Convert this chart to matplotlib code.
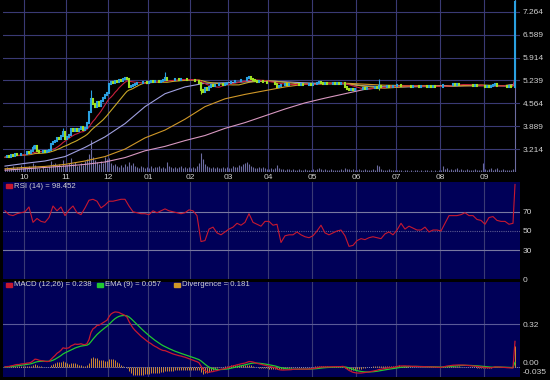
import numpy as np
import pandas as pd
import matplotlib
matplotlib.use("Agg")
import matplotlib.pyplot as plt
from matplotlib.patches import Rectangle
from pandas.tseries.offsets import CustomBusinessDay

# trading calendar (exchange closures)
holidays = ['2012-10-29', '2012-10-30', '2012-11-22', '2012-12-25', '2013-01-01',
            '2013-01-21', '2013-02-18', '2013-03-29', '2013-05-27', '2013-07-04',
            '2013-09-02']
first_day = '2012-09-17'

# daily closes
closes = [
    # Sep
    2.98, 3.02, 3.00, 3.05, 3.03, 3.08, 3.06, 3.04, 3.09, 3.07,
    # Oct
    3.08, 3.12, 3.10, 3.15, 3.25, 3.30, 3.16, 3.12, 3.14, 3.17, 3.13,
    3.16, 3.20, 3.38, 3.42, 3.46, 3.55, 3.52, 3.60, 3.72, 3.52,
    # Nov
    3.58, 3.64, 3.80, 3.76, 3.82, 3.74, 3.80, 3.86, 3.78, 3.84, 3.98,
    4.30, 4.70, 4.55, 4.45, 4.60, 4.50, 4.65, 4.72, 4.80, 4.86,
    # Dec
    5.15, 5.20, 5.18, 5.22, 5.20, 5.24, 5.22, 5.28, 5.30, 5.27,
    5.05, 5.08, 5.10, 5.15, 5.17, 5.18, 5.16, 5.19, 5.20, 5.18,
    # Jan
    5.20, 5.22, 5.19, 5.21, 5.23, 5.20, 5.22, 5.24, 5.30, 5.25, 5.24,
    5.26, 5.25, 5.27, 5.28, 5.26, 5.29, 5.27, 5.28, 5.26, 5.25,
    # Feb
    5.24, 5.25, 5.22, 5.23, 5.18, 4.95, 4.90, 5.02, 4.96, 5.05,
    5.10, 5.08, 5.12, 5.10, 5.13, 5.15, 5.12, 5.14, 5.16,
    # Mar
    5.18, 5.20, 5.19, 5.21, 5.23, 5.22, 5.25, 5.24, 5.26, 5.30,
    5.33, 5.27, 5.24, 5.22, 5.20, 5.22, 5.21, 5.19, 5.20, 5.18,
    # Apr
    5.17, 5.18, 5.16, 5.15, 5.06, 5.09, 5.11, 5.12, 5.13, 5.12, 5.14,
    5.13, 5.15, 5.14, 5.13, 5.12, 5.13, 5.12, 5.11, 5.12, 5.13, 5.12,
    # May
    5.15, 5.14, 5.16, 5.19, 5.16, 5.15, 5.16, 5.15, 5.14, 5.15, 5.16,
    5.15, 5.16, 5.15, 5.17, 5.18, 5.06, 5.00, 4.97, 4.99, 4.96, 4.99,
    # Jun
    4.98, 5.00, 4.99, 5.01, 5.00, 5.02, 5.01, 5.03, 5.02, 5.04,
    5.03, 5.08, 5.04, 5.06, 5.05, 5.07, 5.06, 5.05, 5.07, 5.08,
    # Jul
    5.10, 5.12, 5.08, 5.09, 5.08, 5.07, 5.08, 5.06, 5.07, 5.08, 5.07,
    5.06, 5.07, 5.08, 5.07, 5.06, 5.07, 5.06, 5.07, 5.06, 5.05, 5.06,
    # Aug
    5.05, 5.10, 5.11, 5.12, 5.11, 5.12, 5.13, 5.12, 5.13, 5.12, 5.11,
    5.12, 5.11, 5.10, 5.11, 5.10, 5.09, 5.10, 5.09, 5.08, 5.08, 5.07,
    # Sep
    5.06, 5.07, 5.06, 5.08, 5.10, 5.14, 5.09, 5.08, 5.07, 5.08,
    5.07, 5.06, 5.07, 5.06, 5.06, 7.55,
]

# days whose wicks stick out of the body
wick_highs = {14: 3.35, 29: 3.85, 43: 4.95, 80: 5.50, 187: 5.28, 245: 5.16, 255: 7.608}
wick_lows = {98: 4.85, 187: 4.95}

# volume, thousands of shares
volume = [
    40, 55, 30, 45, 60, 35, 50, 40, 70, 45,
    50, 40, 60, 55, 90, 70, 40, 45, 35, 50, 40, 45, 60, 110, 80, 95, 70, 85, 60, 120, 75,
    70, 90, 140, 80, 100, 60, 75, 90, 70, 110, 130, 180, 320, 150, 120, 100, 80, 110, 90, 150, 130,
    140, 90, 70, 80, 60, 55, 70, 50, 80, 60, 100, 70, 90, 60, 50, 45, 60, 55, 40, 50,
    45, 60, 40, 55, 50, 65, 40, 50, 45, 100, 60, 50, 45, 55, 40, 50, 60, 45, 55, 40, 50,
    45, 55, 40, 60, 90, 190, 130, 80, 60, 50, 45, 55, 40, 50, 45, 40, 55, 45, 50,
    40, 45, 60, 50, 55, 70, 60, 80, 95, 100, 85, 60, 50, 45, 40, 55, 45, 50, 40, 35,
    35, 40, 30, 45, 70, 40, 35, 30, 25, 30, 35, 25, 30, 20, 25, 30, 20, 25, 30, 20, 25, 20,
    30, 25, 35, 40, 30, 25, 30, 20, 25, 30, 20, 25, 20, 25, 30, 25, 40, 30, 35, 25, 30, 20,
    25, 30, 20, 25, 30, 20, 25, 20, 30, 25, 70, 60, 30, 25, 20, 25, 30, 20, 25, 20,
    20, 25, 20, 15, 20, 25, 15, 20, 15, 20, 25, 15, 20, 15, 20, 25, 15, 20, 15, 20, 15, 20,
    25, 60, 30, 45, 25, 35, 20, 30, 40, 25, 30, 20, 25, 30, 20, 25, 20, 30, 25, 20, 25, 90,
    35, 25, 30, 45, 25, 30, 40, 25, 20, 30, 25, 20, 25, 20, 30, 2000,
]

# slow moving averages every 10th session (+ last one);
# they include history from before the visible window
ma50 = [2.72, 2.80, 2.87, 3.00, 3.27, 3.58, 3.97, 4.47, 4.85, 5.05, 5.16, 5.17, 5.20, 5.22,
        5.20, 5.17, 5.15, 5.14, 5.08, 5.05, 5.05, 5.06, 5.07, 5.09, 5.09, 5.08, 5.12]
ma100 = [2.64, 2.68, 2.71, 2.77, 2.87, 3.00, 3.22, 3.55, 3.78, 4.10, 4.47, 4.70, 4.83, 4.94,
         5.05, 5.13, 5.17, 5.16, 5.13, 5.10, 5.09, 5.08, 5.08, 5.08, 5.09, 5.09, 5.12]
ma150 = [2.60, 2.64, 2.68, 2.72, 2.77, 2.84, 2.97, 3.17, 3.30, 3.47, 3.62, 3.83, 4.00, 4.20,
         4.40, 4.58, 4.72, 4.85, 4.98, 5.04, 5.07, 5.08, 5.09, 5.09, 5.09, 5.09, 5.11]

# RSI(14) read every second session, plus the last session
rsi = [
    71, 67, 66, 68, 69, 70, 75, 59, 63, 60, 59, 64, 76, 71, 75, 66,
    72, 76, 69, 67, 74, 82, 83, 81, 74, 77, 81, 81, 82, 83, 83, 76,
    70, 69, 68, 68, 67, 71, 69, 71, 73, 71, 70, 69, 68, 69, 72, 71,
    66, 39, 40, 52, 54, 48, 46, 49, 52, 54, 58, 56, 59, 68, 59, 57,
    55, 60, 60, 56, 57, 38, 45, 46, 46, 49, 46, 44, 43, 45, 50, 56,
    48, 46, 48, 50, 51, 45, 34, 35, 40, 42, 41, 43, 44, 43, 42, 47,
    49, 46, 51, 58, 52, 55, 53, 51, 51, 54, 49, 51, 51, 50, 58, 66,
    66, 66, 67, 69, 66, 66, 62, 61, 57, 64, 65, 61, 60, 60, 57, 58,
    98.452,
]

price_ticks = [3.214, 3.889, 4.564, 5.239, 5.914, 6.589, 7.264]
rsi_ticks = [0, 30, 50, 70]

rsi_label = 'RSI (14) = 98.452'
macd_label = 'MACD (12,26) = 0.238'
ema_label = 'EMA (9) = 0.057'
div_label = 'Divergence = 0.181'

NAVY = '#000058'
GRID = '#3a3a74'
TXT = '#d0d0d0'
UP = '#2aa0e0'
DOWN = '#a0e020'
RED = '#c81830'
GREEN = '#20c830'
TAN = '#d08a30'

plt.rcParams['font.family'] = ['Liberation Sans', 'DejaVu Sans']

# ---- derived series ----
cal = CustomBusinessDay(holidays=holidays)
dates = pd.date_range(first_day, periods=len(closes), freq=cal)
idx = np.arange(len(closes))
c = pd.Series(closes)
o = c.shift(1).fillna(c.iloc[0])
up = (c >= o).values

months = dates.month
month_idx = np.flatnonzero(np.r_[True, months[1:] != months[:-1]])[1:]
month_labels = [f"{m:02d}" for m in months[month_idx]]

ema12 = c.ewm(span=12, adjust=False).mean()
ema26 = c.ewm(span=26, adjust=False).mean()
macd = ema12 - ema26
signal = macd.ewm(span=9, adjust=False).mean()
diverg = macd - signal

rsi_idx = list(range(0, len(closes) - 1, 2)) + [len(closes) - 1]
ma_idx = list(range(0, len(closes), 10)) + [len(closes) - 1]

# ---- figure ----
W, H = 550, 380


def box(x0, y0, x1, y1):
    return [x0 / W, 1 - y1 / H, (x1 - x0) / W, (y1 - y0) / H]


fig = plt.figure(figsize=(5.5, 3.8), dpi=100, facecolor='black')
ax_v = fig.add_axes(box(3, 0, 520, 172), zorder=0)
ax_p = fig.add_axes(box(3, 0, 520, 172), sharex=ax_v, zorder=1)
ax_r = fig.add_axes(box(3, 182, 520, 279), sharex=ax_v)
ax_m = fig.add_axes(box(3, 282, 520, 377), sharex=ax_v)

for ax in (ax_v, ax_p, ax_r, ax_m):
    ax.set_facecolor(NAVY)
    for s in ax.spines.values():
        s.set_visible(False)
    ax.tick_params(length=0, colors=TXT, labelsize=6)
    ax.yaxis.tick_right()
    ax.set_xticks(month_idx - 0.5)
    ax.grid(axis='x', color=GRID, lw=0.8)
ax_p.patch.set_visible(False)
ax_v.axis('off')
ax_p.set_xlim(-1, 257.5)

# volume
ax_v.vlines(idx, 0, volume, color='#6c6ca0', lw=0.8)
ax_v.set_ylim(0, 1720)

# price
ax_p.set_ylim(2.546, 7.608)
ax_p.set_yticks(price_ticks)
ax_p.set_yticklabels([f"{t:.3f}" for t in price_ticks])
ax_p.grid(axis='y', color=GRID, lw=0.8)
ax_p.set_xticklabels(month_labels)
ax_p.tick_params(axis='x', pad=1.5)
ax_p.tick_params(axis='y', pad=2)

ax_p.plot(ma_idx, ma150, color='#d898c0', lw=0.8)
ax_p.plot(ma_idx, ma100, color='#d09828', lw=0.8)
ax_p.plot(ma_idx, ma50, color='#a0a0e0', lw=0.8)
ax_p.plot(idx, c.rolling(20, min_periods=1).mean(), color='#c8a828', lw=0.8)
ax_p.plot(idx, c.rolling(10, min_periods=1).mean(), color='#c8203c', lw=0.8)

for d, hi in wick_highs.items():
    ax_p.vlines(d, max(o[d], c[d]), hi, color=UP, lw=0.8)
for d, lo in wick_lows.items():
    ax_p.vlines(d, lo, min(o[d], c[d]), color=DOWN, lw=0.8)
ax_p.vlines(idx[up], o[up], c[up], color=UP, lw=1.5, capstyle='projecting')
ax_p.vlines(idx[~up], o[~up], c[~up], color=DOWN, lw=1.5, capstyle='projecting')

# RSI
ax_r.set_ylim(0, 101)
ax_r.set_yticks(rsi_ticks)
ax_r.tick_params(axis='x', labelbottom=False)
ax_r.tick_params(axis='y', pad=2)
ax_r.axhline(70, color='#7878a0', lw=0.8)
ax_r.axhline(30, color='#7878a0', lw=0.8)
ax_r.axhline(50, color='#5a5a90', lw=0.8, ls=(0, (1, 1)))
ax_r.plot(rsi_idx, rsi, color=RED, lw=0.8)

# MACD
ax_m.set_ylim(-0.0744, 0.6326)
ax_m.set_yticks([0.32])
ax_m.set_yticklabels(['0.32'])
ax_m.tick_params(axis='x', labelbottom=False)
ax_m.tick_params(axis='y', pad=2)
ax_m.axhline(0.32, color='#5a5a98', lw=0.8)
ax_m.axhline(0.0, color='#9090b0', lw=0.7, ls=(0, (1, 1)))
ax_m.vlines(idx, 0, diverg, color=TAN, lw=0.7)
ax_m.plot(idx, signal, color=GREEN, lw=0.9)
ax_m.plot(idx, macd, color=RED, lw=0.9)
# the zero and minimum labels sit almost on top of each other in the original
fig.text(523 / W, 1 - 363.5 / H, '0.00', color=TXT, fontsize=6, va='center', ha='left')
fig.text(523 / W, 1 - 372.5 / H, '-0.035', color=TXT, fontsize=6, va='center', ha='left')


# panel captions with colour swatches
def caption(x, y, color, text):
    fig.patches.append(Rectangle((x / W, 1 - (y + 2) / H), 6 / W, 4 / H,
                                 transform=fig.transFigure, color=color, zorder=5))
    fig.text((x + 8) / W, 1 - y / H, text, color=TXT, fontsize=5.6,
             va='center', ha='left', zorder=6)


caption(6, 186, RED, rsi_label)
caption(6, 285, RED, macd_label)
caption(97, 285, GREEN, ema_label)
caption(174, 285, '#d09828', div_label)

fig.savefig('out.png', dpi=100, facecolor='black')
